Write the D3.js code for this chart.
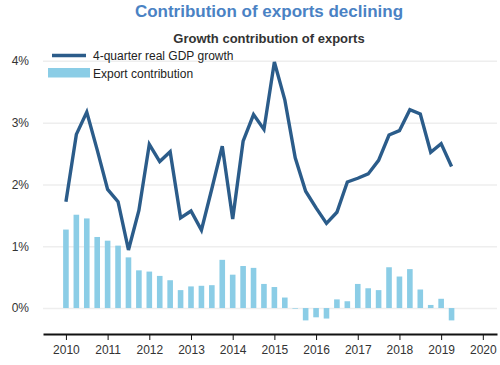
<!DOCTYPE html>
<html>
<head>
<meta charset="utf-8">
<script src="https://cdn.jsdelivr.net/npm/d3@7"></script>
<style>
  body { margin: 0; background: #fff; }
  text { font-family: "Liberation Sans", Arial, sans-serif; }
</style>
</head>
<body>
<div id="chart"></div>
<script>
const width = 500
const height = 365

// quarters 2010Q1 .. 2019Q2
const quarters = d3.range(38).map(i => 2010 + i / 4)

const gdpGrowth = [
  1.72, 2.81, 3.17, 2.56,
  1.92, 1.72, 0.94, 1.58,
  2.65, 2.37, 2.53, 1.46,
  1.57, 1.26, 1.93, 2.62,
  1.44, 2.70, 3.13, 2.89,
  3.98, 3.37, 2.43, 1.89,
  1.62, 1.37, 1.55, 2.04,
  2.10, 2.17, 2.39, 2.80,
  2.87, 3.21, 3.14, 2.52,
  2.66, 2.29
]

const exportContribution = [
  1.27, 1.51, 1.45, 1.15,
  1.09, 1.01, 0.82, 0.61,
  0.59, 0.52, 0.45, 0.29,
  0.35, 0.36, 0.37, 0.78,
  0.54, 0.68, 0.65, 0.39,
  0.34, 0.17, -0.01, -0.20,
  -0.15, -0.17, 0.14, 0.11,
  0.39, 0.32, 0.29, 0.66,
  0.51, 0.63, 0.30, 0.05,
  0.15, -0.20
]

const yearTicks = d3.range(2010, 2021)
const pctTicks = [0, 1, 2, 3, 4]

const x = d3.scaleLinear()
    .domain([2009.45, 2020.34])
    .range([43, 497])

const y = d3.scaleLinear()
    .domain([-0.42, 4.3])
    .range([334, 42.3])

const svg = d3.select('#chart')
    .append('svg')
    .attr('width', width)
    .attr('height', height)

svg.append('text')
    .attr('x', 269)
    .attr('y', 17)
    .attr('text-anchor', 'middle')
    .attr('font-size', 17)
    .attr('font-weight', 'bold')
    .attr('fill', '#4a82c4')
    .text('Contribution of exports declining')

svg.append('text')
    .attr('x', 269)
    .attr('y', 43)
    .attr('text-anchor', 'middle')
    .attr('font-size', 13)
    .attr('font-weight', 'bold')
    .attr('fill', '#333')
    .text('Growth contribution of exports')

// gridlines + y labels
const yAxis = svg.append('g')
    .attr('transform', 'translate(43,0)')
    .call(d3.axisLeft(y).tickValues(pctTicks).tickSize(-454).tickFormat(d => d + '%'))
yAxis.select('.domain').remove()
yAxis.selectAll('.tick line').attr('stroke', '#eeeeee').attr('stroke-width', 1.5)
yAxis.selectAll('.tick text')
    .attr('x', -14)
    .attr('font-size', 12)
    .attr('fill', '#333')
    .attr('font-family', '"Liberation Sans", Arial, sans-serif')

const barW = 5.6
svg.selectAll('rect.bar')
    .data(exportContribution)
    .enter()
    .append('rect')
    .attr('class', 'bar')
    .attr('x', (d, i) => x(quarters[i]) - barW / 2)
    .attr('y', d => y(Math.max(0, d)))
    .attr('width', barW)
    .attr('height', d => Math.abs(y(d) - y(0)))
    .attr('fill', '#8bcde6')

const line = d3.line()
    .x((d, i) => x(quarters[i]))
    .y(d => y(d))

svg.append('path')
    .datum(gdpGrowth)
    .attr('d', line)
    .attr('fill', 'none')
    .attr('stroke', '#2b5c8a')
    .attr('stroke-width', 3.4)
    .attr('stroke-linejoin', 'miter')

// x axis
const xAxis = svg.append('g')
    .attr('transform', 'translate(0,334)')
    .call(d3.axisBottom(x).tickValues(yearTicks).tickSize(6).tickSizeOuter(0).tickFormat(d3.format('d')))
xAxis.select('.domain').attr('stroke', '#111').attr('stroke-width', 2)
xAxis.selectAll('.tick line').attr('stroke', '#111').attr('stroke-width', 1)
xAxis.selectAll('.tick text')
    .attr('y', 11)
    .attr('font-size', 12)
    .attr('fill', '#333')
    .attr('font-family', '"Liberation Sans", Arial, sans-serif')

// legend
const legend = svg.append('g')
legend.append('line')
    .attr('x1', 52).attr('x2', 86)
    .attr('y1', 55.5).attr('y2', 55.5)
    .attr('stroke', '#2b5c8a')
    .attr('stroke-width', 3.5)
legend.append('text')
    .attr('x', 93).attr('y', 60)
    .attr('font-size', 12)
    .attr('fill', '#222')
    .text('4-quarter real GDP growth')
legend.append('rect')
    .attr('x', 48).attr('y', 68)
    .attr('width', 42).attr('height', 9.5)
    .attr('fill', '#8bcde6')
legend.append('text')
    .attr('x', 93).attr('y', 78)
    .attr('font-size', 12)
    .attr('fill', '#222')
    .text('Export contribution')
</script>
</body>
</html>
